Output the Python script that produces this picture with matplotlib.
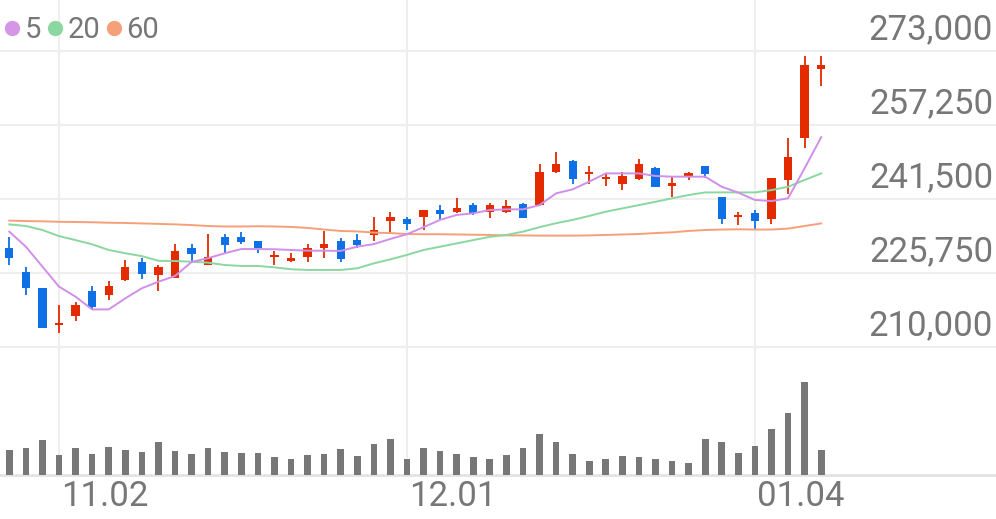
import numpy as np
import matplotlib
matplotlib.use('Agg')
import matplotlib.pyplot as plt
from matplotlib.lines import Line2D

plt.rcParams['font.family'] = ['Roboto', 'DejaVu Sans']

# daily candles
opens = [231000, 226000, 222500, 214750, 216500, 222000, 221000, 224250, 228000, 225250,
         224750, 231000, 227500, 233500, 233500, 232500, 229250, 228250, 229250, 231000,
         232500, 232750, 233750, 236750, 237250, 237750, 239250, 238750, 240250, 238750,
         238750, 240500, 240250, 247250, 249500, 246750, 245750, 244750, 245750, 248000,
         244250, 246500, 248500, 242000, 237750, 238500, 237250, 245500, 254500, 269250]
highs = [233500, 227000, 222500, 219000, 219500, 223000, 224000, 228500, 229000, 227500,
         232000, 232000, 234000, 234000, 234500, 232500, 230500, 230000, 232000, 234750,
         233250, 234000, 237750, 238750, 237750, 239250, 240250, 241750, 240750, 240750,
         241250, 240750, 249000, 251500, 249750, 248500, 247000, 247250, 250000, 248250,
         246250, 247250, 248500, 242000, 238750, 239250, 246000, 254500, 272000, 272000]
lows = [227500, 221000, 214000, 213000, 215500, 218000, 220000, 224000, 224500, 222000,
        224750, 228000, 227500, 230000, 232000, 230000, 227500, 228000, 228000, 229000,
        228000, 231000, 232500, 234000, 235000, 235000, 237000, 238500, 238000, 237500,
        238500, 237500, 240000, 247000, 244750, 244750, 244250, 243500, 245500, 244000,
        242000, 245500, 246000, 236250, 236000, 235000, 236250, 242500, 252250, 265500]
closes = [229000, 222500, 214000, 215000, 219000, 218500, 223000, 227000, 225500, 227000,
          230500, 229750, 229250, 231750, 232250, 231000, 229500, 229000, 231000, 232000,
          228750, 231750, 235000, 237750, 236250, 239250, 238250, 239500, 238500, 240250,
          240000, 237500, 247250, 249000, 245750, 247250, 246000, 246500, 249000, 244000,
          245000, 247000, 246750, 237250, 238000, 236750, 246000, 250500, 270000, 270000]

# volume, thousand shares
volumes = [122, 131, 172, 97, 134, 101, 137, 121, 112, 164,
           119, 104, 134, 114, 107, 106, 89, 76, 97, 101,
           129, 92, 152, 177, 80, 132, 117, 101, 86, 76,
           96, 134, 204, 161, 102, 67, 76, 92, 86, 76,
           69, 57, 176, 164, 106, 144, 226, 309, 464, 124]

# moving averages
ma5 = [234550, 231350, 227100, 222850, 220700, 218000, 218000, 220350, 222500, 223900,
       225100, 228100, 228900, 229950, 230850, 230850, 230800, 230650, 230500, 230500,
       230450, 231350, 231900, 233000, 234000, 235500, 237050, 238100, 238450, 239150,
       239300, 239300, 240200, 242700, 243550, 245200, 246950, 246950, 246950, 246400,
       246250, 246250, 246250, 244100, 242850, 241300, 241050, 241650, 248050, 254650]
ma20 = [236100, 235750, 234900, 233600, 232750, 231850, 230650, 229950, 229350, 228350,
        228300, 228150, 227950, 227450, 227250, 227250, 226950, 226550, 226400, 226400,
        226400, 226750, 227800, 228650, 229600, 230650, 231350, 232050, 232750, 233450,
        233850, 234550, 235500, 236350, 237050, 237900, 238800, 239500, 240200, 240900,
        241650, 242350, 242900, 242900, 242900, 242900, 243400, 244100, 245550, 246950]
ma60 = [236900, 236800, 236750, 236650, 236600, 236550, 236450, 236400, 236300, 236200,
        236100, 235950, 235750, 235650, 235650, 235700, 235650, 235550, 235350, 235000,
        234700, 234600, 234350, 234250, 234050, 234000, 234000, 233950, 233900, 233850,
        233750, 233750, 233700, 233700, 233700, 233750, 233850, 233950, 234050, 234250,
        234400, 234700, 234900, 235000, 235050, 235000, 235000, 235200, 235750, 236300]

price_ticks = [210000, 225750, 241500, 257250, 273000]
date_idx = [3, 24, 45]
date_labels = ['11.02', '12.01', '01.04']

RED = '#e42b00'
BLUE = '#0f70e6'
GRID = '#eeeeee'
TXT = '#777777'

o = np.array(opens)
c = np.array(closes)
x = np.arange(len(o))

fig = plt.figure(figsize=(9.96, 5.19), dpi=100)
ax = fig.add_axes([0, 159 / 519, 1, 360 / 519])
axv = fig.add_axes([0, 44.5 / 519, 1, 114.5 / 519], sharex=ax)

for a in (ax, axv):
    for s in a.spines.values():
        s.set_visible(False)
    a.set_xticks([])
    a.set_yticks([])
    for d in date_idx:
        a.axvline(d, color=GRID, lw=1.5, zorder=0)

ax.set_xlim(-0.561, 59.55)
ax.set_ylim(207232, 283855)
for t in price_ticks:
    ax.axhline(t, color=GRID, lw=1.5, zorder=0)
    ax.annotate(f'{t:,}', xy=(1, t), xycoords=('axes fraction', 'data'),
                xytext=(-3, 21), textcoords='offset pixels',
                ha='right', va='center', fontsize=25, color=TXT)

colors = np.where(c >= o, RED, BLUE)
ax.vlines(x, lows, highs, colors=colors, lw=1.3, zorder=3)
body_h = np.maximum(np.abs(c - o), 350)
ax.bar(x, body_h, 0.5, bottom=np.minimum(o, c), color=colors, zorder=4)

ax.plot(x, ma60, color='#f6a07a', lw=1.4, zorder=5)
ax.plot(x, ma20, color='#8ad7a0', lw=1.4, zorder=5)
ax.plot(x, ma5, color='#d08fe8', lw=1.4, zorder=5)

handles = [Line2D([], [], marker='o', ls='', markersize=10, color=col)
           for col in ('#d596e8', '#8ad7a0', '#f6a07a')]
ax.legend(handles, ['5', '20', '60'], loc='upper left', bbox_to_anchor=(-0.012, 1.003),
          frameon=False, ncol=3, fontsize=21, handlelength=0.45, handletextpad=0.2,
          columnspacing=0.25, borderaxespad=0.2, labelcolor=TXT)

axv.bar(x, volumes, 0.4, color='#777777', zorder=3)
axv.set_ylim(0, 572.5)
axv.axhline(0, color='#e3e3e3', lw=2, zorder=2, clip_on=False)
for d, lab in zip(date_idx, date_labels):
    axv.annotate(lab, xy=(d, 0), xycoords=('data', 'axes fraction'),
                 xytext=(2, -22), textcoords='offset pixels',
                 ha='left', va='center', fontsize=25, color=TXT)

fig.savefig('out.png', dpi=100)
